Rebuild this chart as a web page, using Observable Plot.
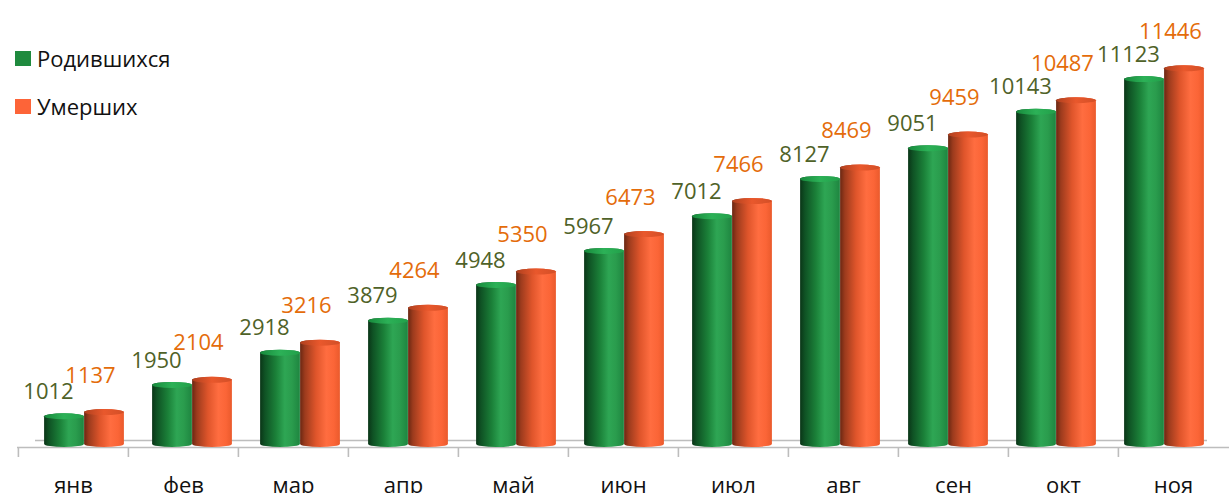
<!DOCTYPE html>
<html>
<head>
<meta charset="utf-8">
<script src="https://cdn.jsdelivr.net/npm/d3@7"></script>
<script src="https://cdn.jsdelivr.net/npm/@observablehq/plot@0.6"></script>
<style>
  html, body { margin: 0; padding: 0; background: #ffffff; }
  #chart { position: relative; width: 1229px; height: 493px; overflow: hidden; font-family: "Open Sans", sans-serif; }
  #chart svg { position: absolute; left: 0; top: 0; }
  #legend { position: absolute; left: 0; top: 0; }
  .li { position: absolute; display: flex; align-items: center; font-size: 22px; color: #111; white-space: nowrap; }
  .sw { width: 16px; height: 15px; margin-right: 6px; }
</style>
</head>
<body>
<div id="chart">
  <div id="legend">
    <div class="li" style="left:15px; top:43px;"><div class="sw" style="background:#1f8a3e"></div>Родившихся</div>
    <div class="li" style="left:15px; top:91px;"><div class="sw" style="background:#fd6438"></div>Умерших</div>
  </div>
</div>
<script>
const months = ["янв","фев","мар","апр","май","июн","июл","авг","сен","окт","ноя"];
const born   = [1012, 1950, 2918, 3879, 4948, 5967, 7012, 8127, 9051, 10143, 11123];
const died   = [1137, 2104, 3216, 4264, 5350, 6473, 7466, 8469, 9459, 10487, 11446];
const seriesNames = ["Родившихся", "Умерших"];

const bornRows = months.map((m, i) => ({month: m, value: born[i], series: seriesNames[0]}));
const diedRows = months.map((m, i) => ({month: m, value: died[i], series: seriesNames[1]}));

const W = 1229, H = 493;
const yScale = {domain: [0, 13403], range: [447, 0]};
const font = {fontFamily: "'Open Sans', sans-serif", fontSize: "22px", background: "transparent", overflow: "visible"};

// Underlay: floor and category axis (categories evenly spread over the floor)
const axisPlot = Plot.plot({
  width: W, height: H,
  marginLeft: 17, marginRight: 0, marginTop: 0, marginBottom: 46,
  style: font,
  x: {type: "band", domain: months, padding: 0, axis: null},
  y: {...yScale, axis: null},
  marks: [
    Plot.ruleY([0], {stroke: "#bdbdbd", strokeWidth: 1.6, dy: -7, insetLeft: 18, insetRight: 22}),
    Plot.ruleY([0], {stroke: "#bdbdbd", strokeWidth: 1.6}),
    Plot.ruleX(months, {x: d => d, dx: -55.1, y1: 0, y2: 0, insetTop: 10, stroke: "#bdbdbd", strokeWidth: 1.6}),
    Plot.text(months, {x: d => d, frameAnchor: "bottom", lineAnchor: "bottom", dy: 45, fill: "#111", fontSize: 22})
  ]
});

// Bars (perspective spacing is slightly narrower than the floor)
const greenFill = "url(#gGreen)", orangeFill = "url(#gOrange)";
const barPlot = Plot.plot({
  width: W, height: H,
  marginLeft: 28.9, marginRight: 9.9, marginTop: 0, marginBottom: 46,
  style: font,
  x: {type: "band", domain: months, padding: 0, axis: null},
  y: {...yScale, axis: null},
  marks: [
    Plot.barY(bornRows, {x: "month", y: "value", fill: greenFill, insetLeft: 14.1, insetRight: 54.1, rx: 20, ry: 3}),
    Plot.barY(bornRows, {x: "month", y1: "value", y2: "value", insetTop: 0, insetBottom: -6, fill: "url(#cGreen)", insetLeft: 14.1, insetRight: 54.1, rx: 20, ry: 3}),
    Plot.barY(diedRows, {x: "month", y: "value", fill: orangeFill, insetLeft: 54.1, insetRight: 14.1, rx: 20, ry: 3}),
    Plot.barY(diedRows, {x: "month", y1: "value", y2: "value", insetTop: 0, insetBottom: -6, fill: "url(#cOrange)", insetLeft: 54.1, insetRight: 14.1, rx: 20, ry: 3}),
    Plot.text(bornRows, {x: "month", y: "value", text: d => String(d.value), dx: -36, dy: -22, lineAnchor: "middle", fill: "#4f6228", fontSize: 22}),
    Plot.text(diedRows, {x: "month", y: "value", text: d => String(d.value), dx: 6, dy: -34, lineAnchor: "middle", fill: "#e46c0a", fontSize: 22})
  ]
});

// gradients for the cylinder look
const defs = d3.select(barPlot).insert("defs", ":first-child");
function grad(id, stops) {
  const g = defs.append("linearGradient").attr("id", id).attr("x1", 0).attr("x2", 1).attr("y1", 0).attr("y2", 0);
  stops.forEach(([o, c]) => g.append("stop").attr("offset", o).attr("stop-color", c));
}
grad("gGreen", [[0, "#0a3517"], [0.12, "#0f5224"], [0.4, "#1b8139"], [0.62, "#2ea654"], [0.8, "#2a9c4d"], [1, "#1e8540"]]);
grad("cGreen", [[0, "#178a3c"], [0.5, "#2cb157"], [1, "#22a04a"]]);
grad("gOrange", [[0, "#6a2712"], [0.12, "#9c3b1d"], [0.4, "#df552b"], [0.66, "#ff6d40"], [0.85, "#fb6537"], [1, "#ea5a2c"]]);
grad("cOrange", [[0, "#b0401e"], [0.5, "#e9582c"], [1, "#d24f27"]]);

const chart = document.getElementById("chart");
const legend = document.getElementById("legend");
chart.insertBefore(axisPlot, legend);
chart.insertBefore(barPlot, legend);
</script>
</body>
</html>
